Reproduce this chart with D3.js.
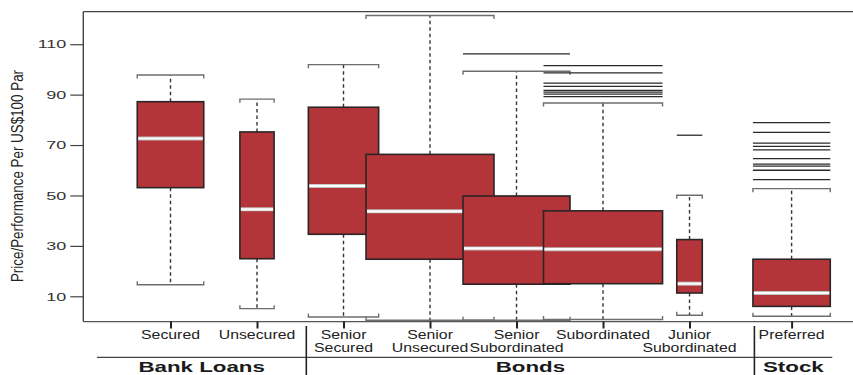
<!DOCTYPE html>
<html>
<head>
<meta charset="utf-8">
<script src="https://cdn.jsdelivr.net/npm/d3@7"></script>
<style>
  html, body { margin: 0; padding: 0; background: #fff; }
  svg { display: block; font-family: "Liberation Sans", Arial, Helvetica, sans-serif; }
</style>
</head>
<body>
<svg id="chart" width="853" height="375"></svg>
<script>
// Recovery price per US$100 par, by instrument type
const categories = ["Secured", "Unsecured", "Senior Secured", "Senior Unsecured",
  "Senior Subordinated", "Subordinated", "Junior Subordinated", "Preferred"];
const groupOf = ["Bank Loans", "Bank Loans", "Bonds", "Bonds", "Bonds", "Bonds", "Bonds", "Stock"];
const groups = ["Bank Loans", "Bonds", "Stock"];

const whiskerLow  = [14.6, 5.1, 1.8, 0.5, 0.5, 0.8, 2.5, 2.1];
const q1          = [53.1, 24.9, 34.6, 24.7, 14.8, 15.0, 11.3, 6.0];
const median      = [72.6, 44.5, 53.8, 43.7, 29.0, 28.7, 15.0, 11.3];
const q3          = [87.2, 75.2, 85.0, 66.3, 49.8, 43.9, 32.5, 24.7];
const whiskerHigh = [97.8, 88.2, 101.9, 121.4, 99.3, 86.7, 50.1, 52.7];
// number of observations (box width ∝ sqrt(n))
const counts      = [34, 9, 38, 126, 88, 109, 5, 46];
const outliers = [
  [], [], [], [],
  [106.2],
  [101.5, 98.6, 94.6, 93.3, 91.7, 91.0, 90.2, 89.2],
  [73.9],
  [78.9, 75.0, 70.8, 69.5, 68.1, 64.6, 62.4, 61.6, 60.0, 56.3]
];
const yTicks = [10, 30, 50, 70, 90, 110];
const yTitle = "Price/Performance Per US$100 Par";

const svg = d3.select("#chart");
const W = 853;
const plotTop = 11.7, plotBottom = 321.5, plotLeft = 83.3;

// slot positions: consecutive categories, with a small gap before the stock group
const slot = i => i + (groupOf[i] === "Stock" ? 0.18 : 0);
const x = d3.scaleLinear().domain([0, 7.18]).range([170.5, 791.6]);
const y = d3.scaleLinear().domain([0, 122.9]).range([plotBottom, plotTop]);
const w = d3.scaleSqrt().domain([0, 126]).range([0, 128]);

const boxFill = "#b3353a", boxStroke = "#2c2526", lineCol = "#333";

// frame: top rule and bottom axis line
svg.append("line").attr("x1", plotLeft).attr("x2", W).attr("y1", plotTop).attr("y2", plotTop)
  .attr("stroke", "#444").attr("stroke-width", 1.2);
svg.append("line").attr("x1", plotLeft).attr("x2", W).attr("y1", plotBottom + 0.2).attr("y2", plotBottom + 0.2)
  .attr("stroke", "#555").attr("stroke-width", 1.2);

// y axis
const yAxis = d3.axisLeft(y).tickValues(yTicks).tickSize(13).tickPadding(4);
const gy = svg.append("g").attr("transform", `translate(${plotLeft},0)`).call(yAxis);
gy.select(".domain").attr("stroke", "#444").attr("stroke-width", 1.4)
  .attr("d", `M0,${plotTop}V${plotBottom}`);
gy.selectAll(".tick line").attr("stroke", "#444").attr("stroke-width", 1.2);
gy.selectAll(".tick text")
  .attr("font-size", 11.6).attr("fill", "#333")
  .attr("x", -17 / 1.55)
  .attr("transform", "scale(1.55,1)");

svg.append("text")
  .attr("transform", `translate(22.5,176) rotate(-90) scale(1,1.3)`)
  .attr("text-anchor", "middle").attr("font-size", 13.4).attr("fill", "#222")
  .text(yTitle);

// boxes, drawn left to right so later boxes overlap earlier ones
categories.forEach((c, i) => {
  const cx = x(slot(i));
  const bw = w(counts[i]);
  const g = svg.append("g");

  // dashed whiskers
  [[q3[i], whiskerHigh[i]], [q1[i], whiskerLow[i]]].forEach(([a, b]) => {
    g.append("line").attr("x1", cx).attr("x2", cx).attr("y1", y(a)).attr("y2", y(b))
      .attr("stroke", lineCol).attr("stroke-width", 1.4).attr("stroke-dasharray", "3.5,3");
  });
  // whisker caps with small end ticks
  [[whiskerHigh[i], 1], [whiskerLow[i], -1]].forEach(([v, dir]) => {
    const yy = y(v);
    g.append("path")
      .attr("d", `M${cx - bw / 2},${yy + 3.5 * dir}V${yy}H${cx + bw / 2}V${yy + 3.5 * dir}`)
      .attr("fill", "none").attr("stroke", "#6e6e6e").attr("stroke-width", 1.4);
  });
  // outliers as horizontal lines
  outliers[i].forEach(v => {
    g.append("line").attr("x1", cx - bw / 2).attr("x2", cx + bw / 2)
      .attr("y1", y(v)).attr("y2", y(v))
      .attr("stroke", "#2a2a2a").attr("stroke-width", 1.3);
  });
  // box
  g.append("rect").attr("x", cx - bw / 2).attr("width", bw)
    .attr("y", y(q3[i])).attr("height", y(q1[i]) - y(q3[i]))
    .attr("fill", boxFill).attr("stroke", boxStroke).attr("stroke-width", 1.6);
  // median
  g.append("line").attr("x1", cx - bw / 2 + 1).attr("x2", cx + bw / 2 - 1)
    .attr("y1", y(median[i])).attr("y2", y(median[i]))
    .attr("stroke", "#bdbdbd").attr("stroke-width", 4);
  g.append("line").attr("x1", cx - bw / 2 + 1).attr("x2", cx + bw / 2 - 1)
    .attr("y1", y(median[i])).attr("y2", y(median[i]))
    .attr("stroke", "#fff").attr("stroke-width", 2.2);
});

// x axis ticks
const xAxis = d3.axisBottom(x).tickValues(categories.map((c, i) => slot(i)))
  .tickSize(7).tickFormat("");
const gx = svg.append("g").attr("transform", `translate(0,${plotBottom})`).call(xAxis);
gx.select(".domain").remove();
gx.selectAll(".tick line").attr("stroke", "#222").attr("stroke-width", 2);

// category labels (one or two lines)
categories.forEach((c, i) => {
  const words = ["Secured", "Unsecured", "Subordinated", "Preferred"].includes(c) ? [c] : c.split(" ");
  words.forEach((wd, k) => {
    svg.append("text")
      .attr("transform", `translate(${x(slot(i))},${k === 0 ? 338.6 : 352.4}) scale(1.32,1)`)
      .attr("text-anchor", "middle").attr("font-size", 12).attr("fill", "#222")
      .text(wd);
  });
});

// group rule, separators and group labels
const firstIdx = g => groupOf.indexOf(g);
const ruleStart = x(-0.85);
const ruleEnd = x(slot(categories.length - 1) + 0.47);
svg.append("line").attr("x1", ruleStart).attr("x2", ruleEnd).attr("y1", 357.3).attr("y2", 357.3)
  .attr("stroke", "#444").attr("stroke-width", 1.2);

const bounds = groups.map((g, gi) => {
  const l = gi === 0 ? ruleStart : x(slot(firstIdx(g)) - 0.43);
  const r = gi === groups.length - 1 ? ruleEnd : x(slot(firstIdx(groups[gi + 1])) - 0.43);
  return [l, r];
});
groups.forEach((g, gi) => {
  if (gi > 0) {
    svg.append("line").attr("x1", bounds[gi][0]).attr("x2", bounds[gi][0])
      .attr("y1", 326).attr("y2", 375).attr("stroke", "#222").attr("stroke-width", 1.6);
  }
  svg.append("text")
    .attr("transform", `translate(${(bounds[gi][0] + bounds[gi][1]) / 2},371.7) scale(1.45,1)`)
    .attr("text-anchor", "middle").attr("font-size", 15.4).attr("font-weight", "bold")
    .attr("fill", "#1a1a1a").text(g);
});
</script>
</body>
</html>
